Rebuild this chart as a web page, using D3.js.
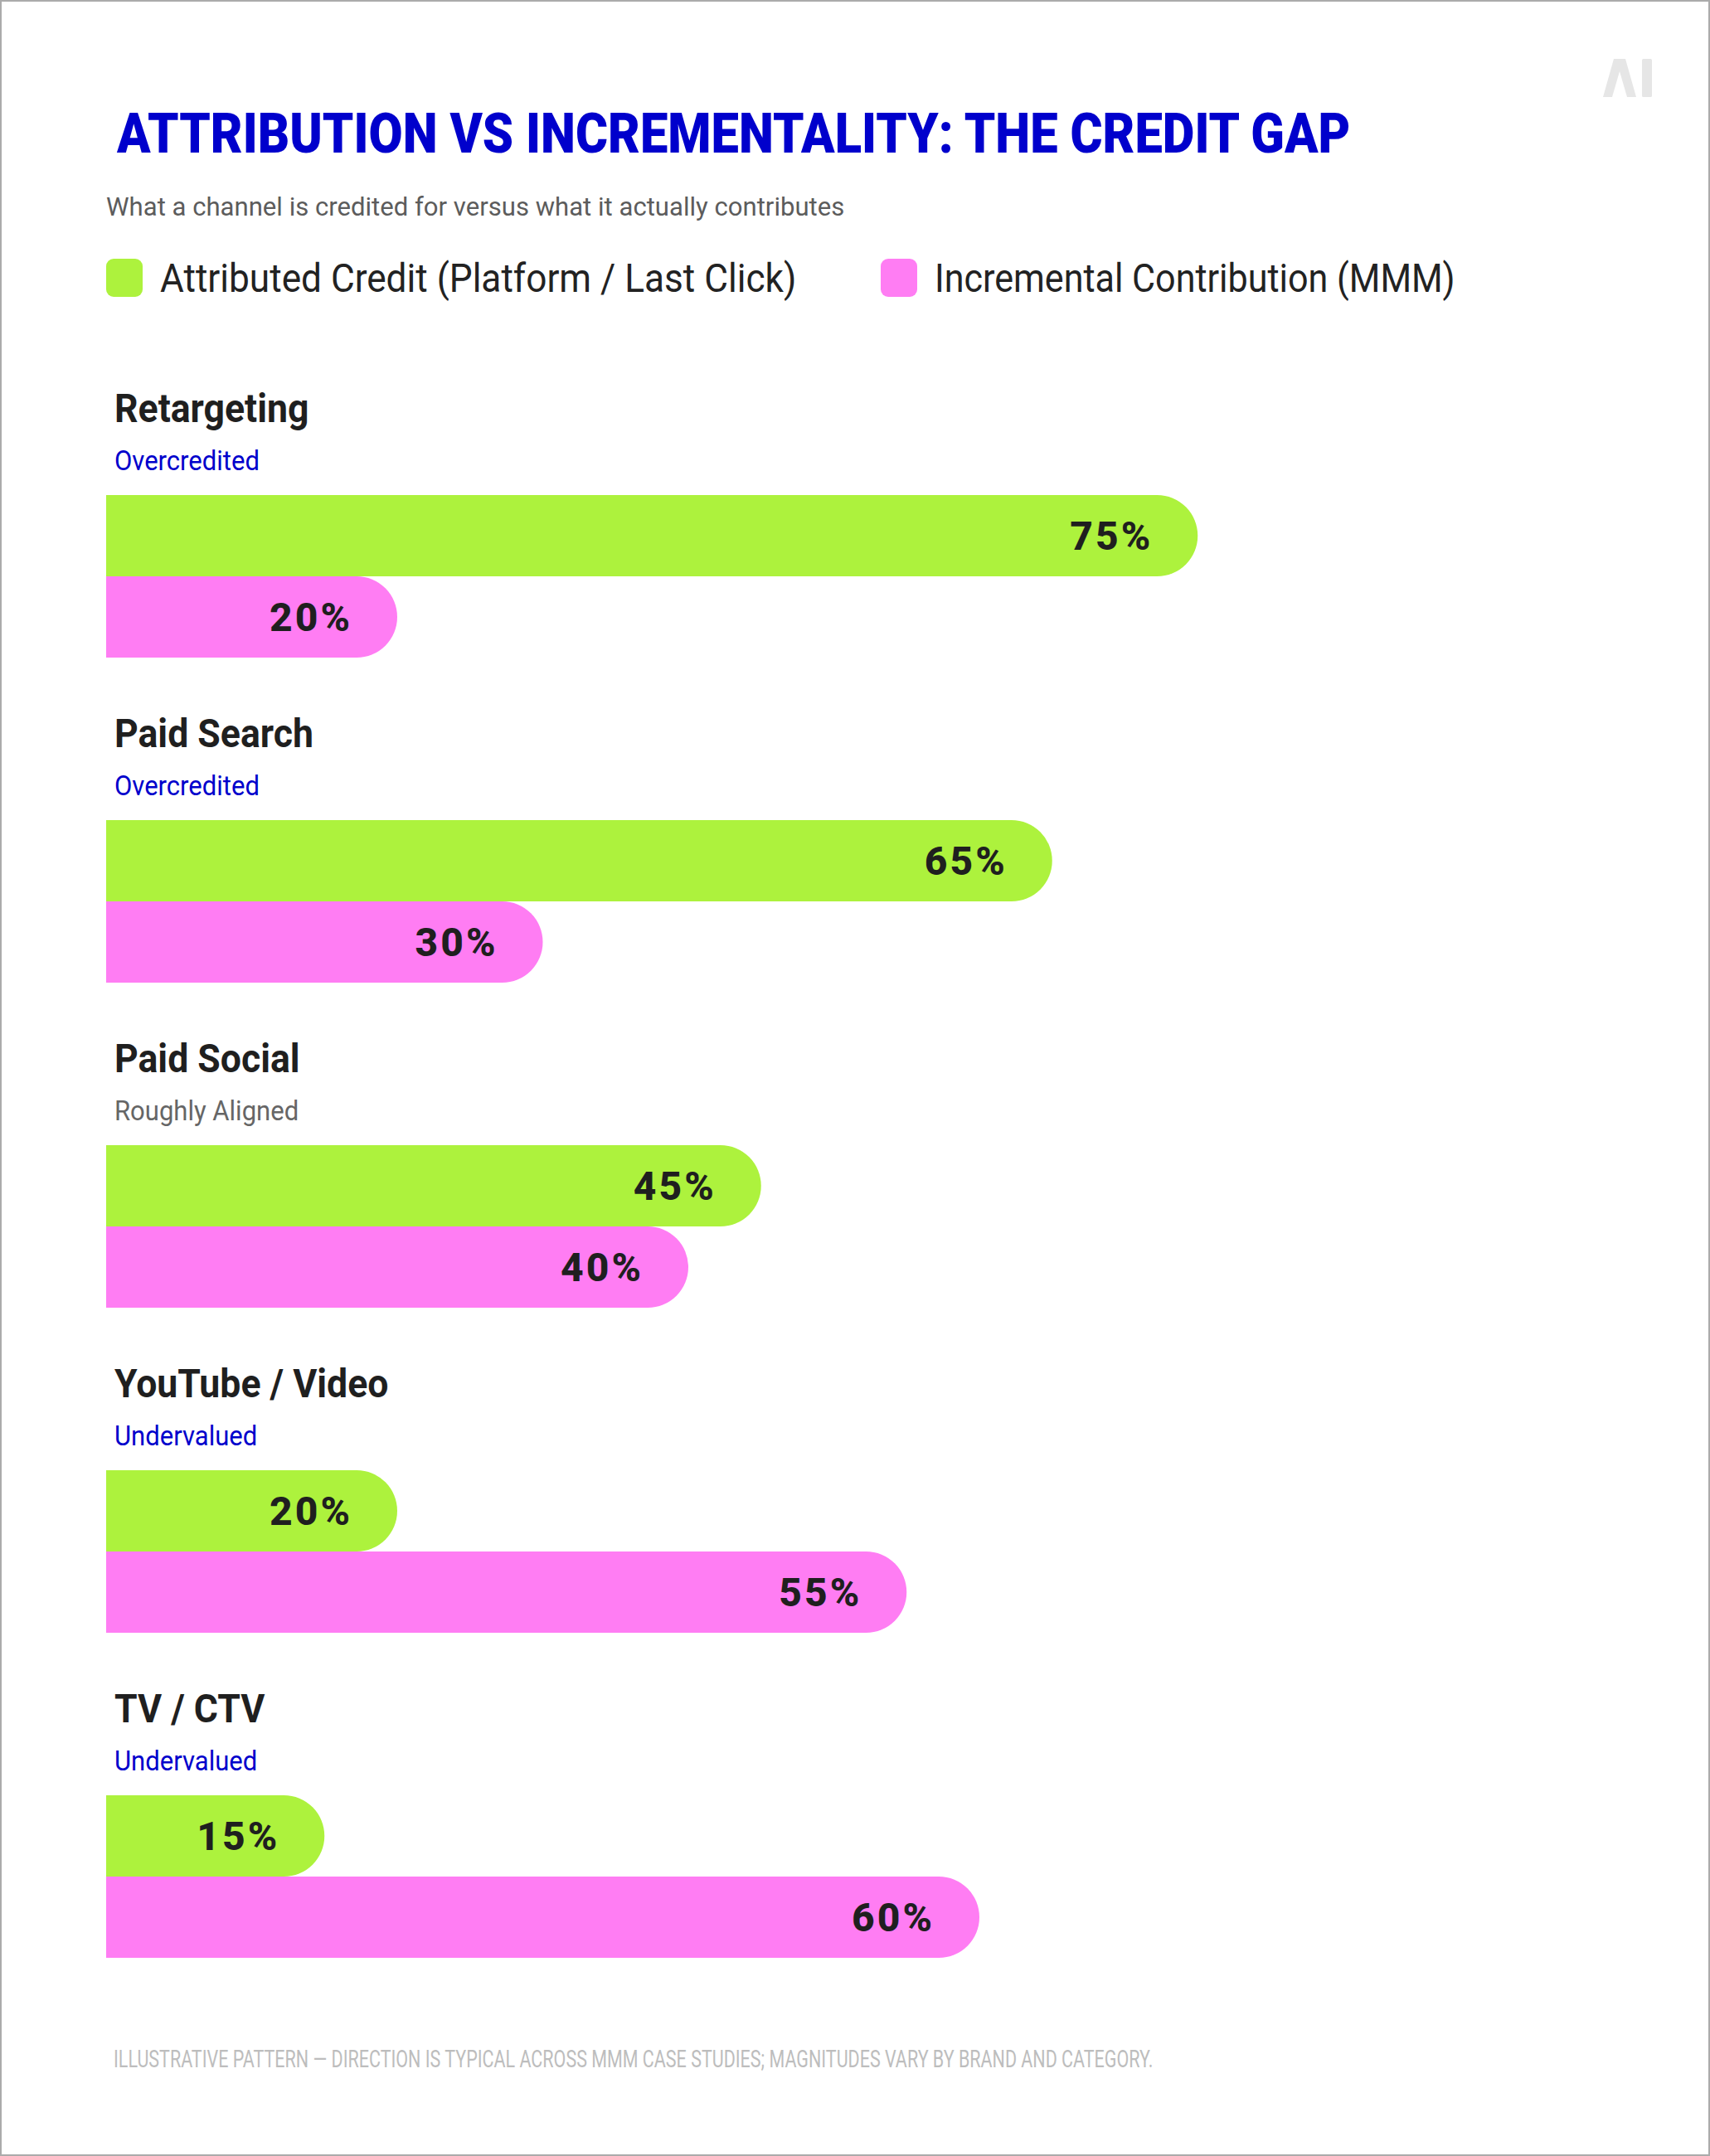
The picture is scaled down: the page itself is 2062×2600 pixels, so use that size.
<!DOCTYPE html>
<html>
<head>
<meta charset="utf-8">
<script src="https://cdn.jsdelivr.net/npm/d3@7"></script>
<style>
  body { margin: 0; background: #fff; }
  svg { display: block; }
</style>
</head>
<body>
<div id="chart"></div>
<script>
// chart values
var channels = ["Retargeting", "Paid Search", "Paid Social", "YouTube / Video", "TV / CTV"];
var verdicts = ["Overcredited", "Overcredited", "Roughly Aligned", "Undervalued", "Undervalued"];
var attributed = [75, 65, 45, 20, 15];
var incremental = [20, 30, 40, 55, 60];
var seriesNames = ["Attributed Credit (Platform / Last Click)", "Incremental Contribution (MMM)"];
var titleText = "ATTRIBUTION VS INCREMENTALITY: THE CREDIT GAP";
var subtitleText = "What a channel is credited for versus what it actually contributes";
var footnoteText = "ILLUSTRATIVE PATTERN \u2014 DIRECTION IS TYPICAL ACROSS MMM CASE STUDIES; MAGNITUDES VARY BY BRAND AND CATEGORY.";

var W = 2062, H = 2600;
var GREEN = "#adf23d", PINK = "#ff7df3", BLUE = "#0000cc", INK = "#1f1f1f";
var FONT = "Roboto, 'Liberation Sans', sans-serif";

var svg = d3.select("#chart").append("svg")
    .attr("width", W)
    .attr("height", H);

svg.append("rect")
    .attr("x", 1).attr("y", 1)
    .attr("width", W - 2).attr("height", H - 2)
    .attr("fill", "#fff")
    .attr("stroke", "#ababab")
    .attr("stroke-width", 2);

// squeeze roboto down to the narrow look of the original
function squeeze(sel, k) {
    sel.each(function() {
        var w = this.getComputedTextLength();
        d3.select(this).attr("textLength", w * k).attr("lengthAdjust", "spacingAndGlyphs");
    });
}

// logo
var logo = svg.append("g").attr("fill", "#e6e6e6");
logo.append("path")
    .attr("d", "M1933,117 L1946,71 L1960,71 L1973,117 L1962,117 L1953,86 L1944,117 Z");
logo.append("rect")
    .attr("x", 1980).attr("y", 71).attr("width", 12).attr("height", 46).attr("rx", 1.5);

// title + subtitle
svg.append("text")
    .attr("x", 141).attr("y", 184)
    .attr("font-family", FONT).attr("font-weight", 900).attr("font-size", 67)
    .attr("fill", BLUE)
    .text(titleText)
    .call(squeeze, 0.89);

svg.append("text")
    .attr("x", 128).attr("y", 260)
    .attr("font-family", FONT).attr("font-size", 32)
    .attr("fill", "#5c5c5c")
    .text(subtitleText)
    .call(squeeze, 0.972);

// legend
var color = d3.scaleOrdinal().domain(seriesNames).range([GREEN, PINK]);
var legendX = [128, 1062];
var legendSqueeze = [0.92, 0.897];
var legend = svg.selectAll("g.legend").data(seriesNames).enter()
    .append("g")
    .attr("class", "legend")
    .attr("transform", function(d, i) { return "translate(" + legendX[i] + ",312)"; });
legend.append("rect")
    .attr("width", 44).attr("height", 46).attr("rx", 9)
    .attr("fill", function(d) { return color(d); });
legend.append("text")
    .attr("x", 65).attr("y", 40)
    .attr("font-family", FONT).attr("font-size", 48)
    .attr("fill", "#222")
    .text(function(d) { return d; })
    .each(function(d, i) { d3.select(this).call(squeeze, legendSqueeze[i]); });

// scales
var x = d3.scaleLinear().domain([0, 100]).range([128, 1883]);
var y = d3.scaleBand().domain(channels).range([597, 597 + 392 * channels.length]).paddingInner(0).paddingOuter(0);
var ySeries = d3.scaleBand().domain([0, 1]).range([0, 196]);

var rows = channels.map(function(c, i) {
    return { channel: c, verdict: verdicts[i], values: [attributed[i], incremental[i]] };
});

var group = svg.selectAll("g.channel").data(rows).enter()
    .append("g")
    .attr("class", "channel")
    .attr("transform", function(d) { return "translate(0," + y(d.channel) + ")"; });

group.append("text")
    .attr("x", 138).attr("y", -88)
    .attr("font-family", FONT).attr("font-weight", 700).attr("font-size", 49)
    .attr("fill", INK)
    .text(function(d) { return d.channel; })
    .call(squeeze, 0.91);

group.append("text")
    .attr("x", 138).attr("y", -30)
    .attr("font-family", FONT).attr("font-size", 33)
    .attr("fill", function(d) { return d.verdict === "Roughly Aligned" ? "#666" : BLUE; })
    .text(function(d) { return d.verdict; })
    .call(squeeze, 0.94);

// bar with square left end and round right end
function barPath(v, top, h) {
    var x0 = x(0), x1 = x(v), r = h / 2;
    return "M" + x0 + "," + top +
        " H" + (x1 - r) +
        " A" + r + "," + r + " 0 0 1 " + (x1 - r) + "," + (top + h) +
        " H" + x0 + " Z";
}

var bars = group.selectAll("g.bar").data(function(d) {
        return d.values.map(function(v, k) { return { v: v, k: k }; });
    }).enter()
    .append("g")
    .attr("class", "bar");

bars.append("path")
    .attr("d", function(d) { return barPath(d.v, ySeries(d.k), ySeries.bandwidth()); })
    .attr("fill", function(d) { return color(seriesNames[d.k]); });

bars.append("text")
    .attr("x", function(d) { return x(d.v) - 54; })
    .attr("y", function(d) { return ySeries(d.k) + ySeries.bandwidth() / 2 + 17; })
    .attr("text-anchor", "end")
    .attr("font-family", FONT).attr("font-weight", 800).attr("font-size", 48)
    .attr("letter-spacing", 3)
    .attr("fill", INK)
    .text(function(d) { return d.v + "%"; });

// footnote
svg.append("text")
    .attr("x", 137).attr("y", 2493)
    .attr("font-family", FONT).attr("font-size", 29)
    .attr("fill", "#bdbdbd")
    .text(footnoteText)
    .call(squeeze, 0.741);
</script>
</body>
</html>
